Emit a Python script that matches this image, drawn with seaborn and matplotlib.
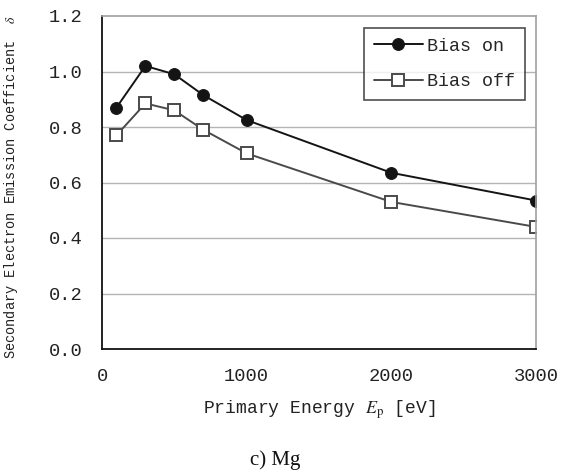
import matplotlib
matplotlib.use('Agg')
import matplotlib.pyplot as plt
import seaborn as sns
import pandas as pd

energy = [100, 300, 500, 700, 1000, 2000, 3000]
bias_on = [0.87, 1.02, 0.99, 0.915, 0.825, 0.635, 0.535]
bias_off = [0.77, 0.885, 0.86, 0.79, 0.705, 0.53, 0.44]
y_ticks = [0.0, 0.2, 0.4, 0.6, 0.8, 1.0, 1.2]
x_ticks = [0, 1000, 2000, 3000]

df = pd.DataFrame({'energy': energy * 2,
                   'delta': bias_on + bias_off,
                   'series': ['Bias on'] * len(energy) + ['Bias off'] * len(energy)})

sns.set_theme(style='white')
plt.rcParams['font.family'] = ['Liberation Mono', 'DejaVu Sans']
plt.rcParams['mathtext.fontset'] = 'stix'

fig = plt.figure(figsize=(5.69, 4.76), dpi=100)
ax = fig.add_axes([102 / 569, 1 - 349 / 476, 434 / 569, 333 / 476])

for y in y_ticks[1:-1]:
    ax.axhline(y, color='#b4b4b4', lw=1.0, zorder=0)

styles = {'Bias on': dict(color='#141414', marker='o', ms=8.5, mfc='#141414', mec='#141414'),
          'Bias off': dict(color='#4a4a4a', marker='s', ms=8.5, mfc='white', mec='#4a4a4a', mew=1.4)}
for name in ['Bias on', 'Bias off']:
    sub = df[df.series == name]
    sns.lineplot(data=sub, x='energy', y='delta', ax=ax, label=name, lw=1.4, **styles[name])

ax.set_xlim(0, 3000)
ax.set_ylim(0, 1.2)
ax.set_xticks(x_ticks)
ax.set_yticks(y_ticks)
ax.set_yticklabels(['%.1f' % v for v in y_ticks])
ax.tick_params(axis='both', labelsize=13.5, colors='#222222', direction='in', length=5, width=1)
ax.tick_params(axis='x', pad=14)
ax.tick_params(axis='y', pad=14)
for s in ['left', 'bottom']:
    ax.spines[s].set_color('#111111')
    ax.spines[s].set_linewidth(1.3)
for s in ['right', 'top']:
    ax.spines[s].set_color('#a0a0a0')
    ax.spines[s].set_linewidth(1.2)

ax.set_xlabel('Primary Energy $\\mathit{E}_{\\mathrm{p}}$ [eV]', fontsize=13, color='#222222')
ax.xaxis.set_label_coords(0.5, -49 / 333)
ax.set_ylabel('Secondary Electron Emission Coefficient  $\\delta$', fontsize=9.8, color='#222222')
ax.yaxis.set_label_coords(-82 / 434, 0.485)

leg = ax.legend(loc='upper right', bbox_to_anchor=(423 / 434, 0.965), fontsize=13.2, frameon=True,
                fancybox=False, handlelength=2.7, handletextpad=0.2, borderpad=0.55, labelspacing=1.0,
                borderaxespad=0)
leg.get_frame().set_edgecolor('#222222')
leg.get_frame().set_linewidth(1.2)

fig.text(275 / 569, 1 - 460 / 476, 'c) Mg', ha='center', va='center', fontsize=15,
         family=['Liberation Serif', 'DejaVu Serif'], color='#111111')

fig.savefig('out.png', dpi=100)
